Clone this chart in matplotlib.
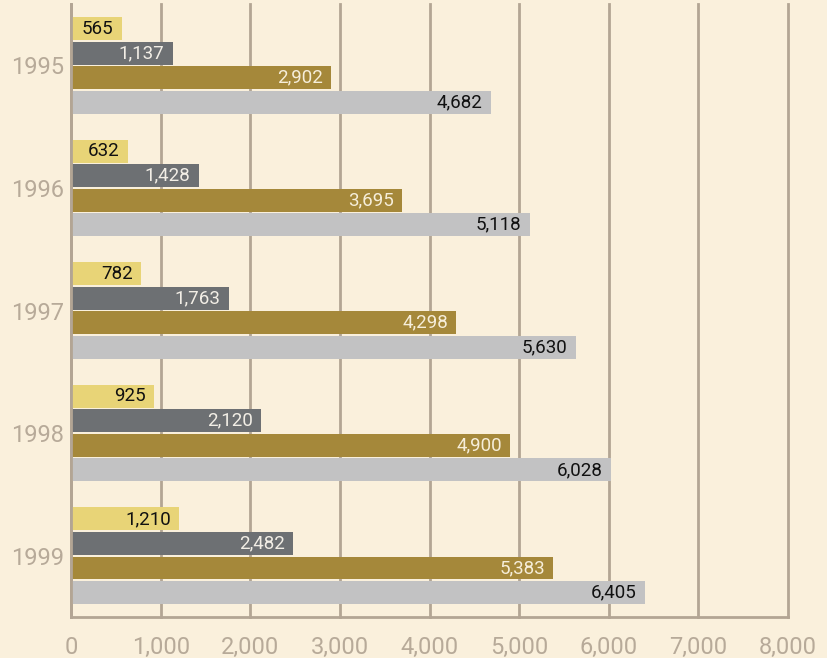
import matplotlib.pyplot as plt
import numpy as np

years = ['1995', '1996', '1997', '1998', '1999']
series_a = [565, 632, 782, 925, 1210]
series_b = [1137, 1428, 1763, 2120, 2482]
series_c = [2902, 3695, 4298, 4900, 5383]
series_d = [4682, 5118, 5630, 6028, 6405]

colors = ['#E8D477', '#6D7073', '#A5883A', '#C2C2C3']
text_colors = ['#111111', '#F2EEE6', '#F6EEDA', '#111111']
bg = '#FAF0DC'
axis_col = '#B3A594'
label_col = '#B7AA99'

plt.rcParams['font.family'] = ['Roboto', 'DejaVu Sans']

fig = plt.figure(figsize=(8.27, 6.58), dpi=100, facecolor=bg)
ax = fig.add_axes([0.0859, 0.0623, 0.8669, 0.9316], facecolor=bg)

y = np.arange(len(years))
h = 0.187
offsets = [-0.3, -0.1, 0.1, 0.3]
for vals, off, c, tc in zip([series_a, series_b, series_c, series_d], offsets, colors, text_colors):
    bars = ax.barh(y + off, vals, height=h, color=c, zorder=2)
    labels = [f'{v:,}' for v in vals]
    ax.bar_label(bars, labels=labels, padding=-6, color=tc, fontsize=13.5)
    for t in ax.texts[-len(vals):]:
        t.set_horizontalalignment('right')

ax.set_xlim(0, 8000)
ax.set_ylim(4.5, -0.5)
ax.set_xticks(range(0, 8001, 1000))
ax.set_xticklabels([f'{v:,}' for v in range(0, 8001, 1000)])
ax.set_yticks(y)
ax.set_yticklabels(years)
ax.tick_params(axis='x', length=0, pad=14, labelsize=17, labelcolor=label_col)
ax.tick_params(axis='y', length=0, pad=5, labelsize=17, labelcolor=label_col)
ax.grid(axis='x', color=axis_col, linewidth=2, zorder=0)
for gl in ax.get_xgridlines():
    gl.set_clip_on(False)
ax.set_axisbelow(True)
for s in ['top', 'right']:
    ax.spines[s].set_visible(False)
for s in ['left', 'bottom']:
    ax.spines[s].set_color(axis_col)
    ax.spines[s].set_linewidth(2)

fig.savefig('out.png', dpi=100, facecolor=bg)
